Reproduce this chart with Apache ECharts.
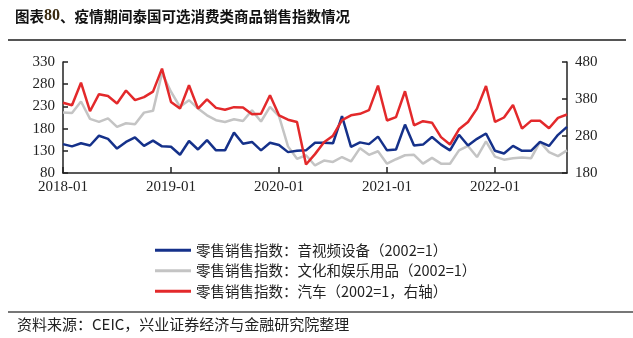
<!DOCTYPE html>
<html>
<head>
<meta charset="utf-8">
<script src="https://cdn.jsdelivr.net/npm/echarts@6/dist/echarts.min.js"></script>
<style>html,body{margin:0;padding:0;background:#fff;}#c{width:633px;height:338px;}</style>
</head>
<body>
<div id="c"></div>
<script>
// months 2018-01 .. 2022-09
const months = [];
for (let y = 2018; y <= 2022; y++) {
  for (let m = 1; m <= 12; m++) {
    if (y === 2022 && m > 9) break;
    months.push(y + '-' + (m < 10 ? '0' + m : m));
  }
}
const seriesNames = [
  '零售销售指数：音视频设备（2002=1）',
  '零售销售指数：文化和娱乐用品（2002=1）',
  '零售销售指数：汽车（2002=1，右轴）'
];
const audioVideo = [145,140,147,142,164,157,135,150,160,141,153,140,139,121,152,133,154,131,131,171,146,150,131,148,143,127,130,131,148,148,147,208,139,149,145,162,131,133,189,142,144,161,144,131,166,142,157,169,130,124,141,130,130,150,141,166,184];
const culture = [216,215,241,202,195,203,184,192,190,216,220,305,263,229,244,225,210,199,195,201,197,221,196,229,208,140,112,120,97,108,105,116,106,136,121,129,101,111,120,121,101,114,101,101,131,141,116,151,117,110,113,115,113,150,127,118,131];
const autos = [370,363,424,347,393,388,368,403,377,385,400,462,372,354,417,354,379,356,351,358,357,339,340,390,336,324,318,203,231,263,281,323,336,340,350,416,322,331,401,309,320,316,277,257,298,318,354,415,318,330,364,300,321,321,301,329,338];
const leftTicks = [80, 330, 50];
const rightTicks = [180, 480, 100];
const titleText = '图表80、疫情期间泰国可选消费类商品销售指数情况';
const sourceText = '资料来源：CEIC，兴业证券经济与金融研究院整理';

const chart = echarts.init(document.getElementById('c'));
const serif = 'Liberation Serif, "Noto Sans CJK SC", serif';
const cjk = '"Noto Sans CJK SC", sans-serif';
const yearTick = (i) => i % 12 === 0;
chart.setOption({
  animation: false,
  backgroundColor: '#fff',
  grid: { left: 63, right: 66, top: 62, bottom: 165 },
  graphic: [
    { type: 'text', left: 15, top: 8, style: {
      text: '{a|图表}{b|80}{a|、疫情期间泰国可选消费类商品销售指数情况}',
      rich: {
        a: { fontFamily: cjk, fontWeight: 'bold', fontSize: 14.5, fill: '#111' },
        b: { fontFamily: serif, fontWeight: 'bold', fontSize: 16, fill: '#3a2a10' }
      } } },
    { type: 'rect', shape: { x: 8, y: 39, width: 618, height: 2 }, style: { fill: '#555' } },
    { type: 'rect', shape: { x: 8, y: 311, width: 625, height: 2 }, style: { fill: '#777' } },
    { type: 'text', left: 17, top: 317, style: { text: sourceText, fontFamily: cjk, fontSize: 15, fill: '#222' } }
  ],
  legend: {
    orient: 'vertical', left: 150, top: 238, itemGap: 6,
    itemWidth: 36, itemHeight: 3, icon: 'rect',
    textStyle: { fontFamily: cjk, fontSize: 14.5, color: '#222' },
    data: seriesNames
  },
  xAxis: {
    type: 'category', data: months, boundaryGap: false,
    axisLine: { lineStyle: { color: '#222', width: 1.5 } },
    axisTick: { inside: true, length: 6, interval: (i) => yearTick(i), lineStyle: { color: '#222', width: 1.5 } },
    axisLabel: { interval: (i) => yearTick(i), fontFamily: serif, fontSize: 15, color: '#222', margin: 7 },
    splitLine: { show: false }
  },
  yAxis: [
    { type: 'value', min: leftTicks[0], max: leftTicks[1], interval: leftTicks[2],
      axisLine: { show: true, lineStyle: { color: '#222', width: 1.5 } },
      axisTick: { show: true, inside: true, length: 5, lineStyle: { color: '#222', width: 1.5 } },
      axisLabel: { fontFamily: serif, fontSize: 15, color: '#222', margin: 8 },
      splitLine: { show: false } },
    { type: 'value', min: rightTicks[0], max: rightTicks[1], interval: rightTicks[2],
      axisLine: { show: true, lineStyle: { color: '#222', width: 1.5 } },
      axisTick: { show: true, inside: true, length: 5, lineStyle: { color: '#222', width: 1.5 } },
      axisLabel: { fontFamily: serif, fontSize: 15, color: '#222', margin: 8 },
      splitLine: { show: false } }
  ],
  series: [
    { name: seriesNames[0], type: 'line', data: audioVideo, yAxisIndex: 0, showSymbol: false,
      lineStyle: { color: '#15318a', width: 2.5 }, itemStyle: { color: '#15318a' }, z: 3 },
    { name: seriesNames[1], type: 'line', data: culture, yAxisIndex: 0, showSymbol: false,
      lineStyle: { color: '#c4c4c4', width: 2.5 }, itemStyle: { color: '#c4c4c4' }, z: 2 },
    { name: seriesNames[2], type: 'line', data: autos, yAxisIndex: 1, showSymbol: false,
      lineStyle: { color: '#e3292b', width: 2.5 }, itemStyle: { color: '#e3292b' }, z: 4 }
  ]
});
</script>
</body>
</html>
